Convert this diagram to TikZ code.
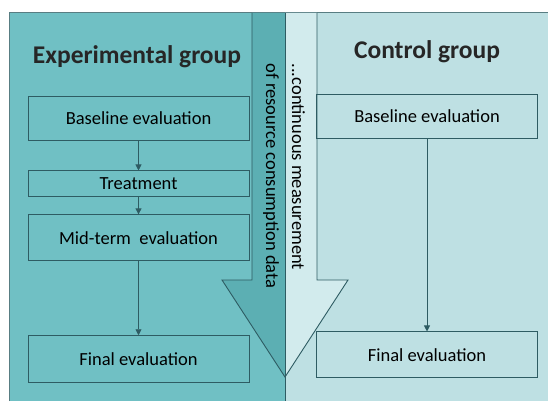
\documentclass[tikz,border=0pt]{standalone}
\usepackage{fontspec}
\setmainfont{Carlito}
\usetikzlibrary{arrows.meta}
\usetikzlibrary{positioning}

\definecolor{expfill}{HTML}{70C0C4}
\definecolor{exparrow}{HTML}{5CAFB3}
\definecolor{ctrlfill}{HTML}{BEE0E3}
\definecolor{ctrlarrow}{HTML}{D2EBED}
\definecolor{boxline}{HTML}{2E5C63}

\begin{document}
\begin{tikzpicture}[x=1pt,y=-1pt,
    stepbox/.style={draw=boxline, line width=0.9pt, minimum width=221pt, inner sep=0pt, font=\fontsize{18.5}{20}\selectfont},
    title/.style={font=\bfseries\fontsize{25.5}{28}\selectfont, text=black!85},
    flow/.style={-{Triangle[length=6pt,width=6pt]}, draw=boxline, line width=0.9pt}]
        \useasboundingbox (0,0) rectangle (548,401);
        % panels
        \fill[expfill] (9,13) rectangle (285,401);
        \fill[ctrlfill] (285,13) rectangle (548,401);
        \draw[boxline!80, line width=1pt] (9,401) -- (9,13) -- (548,13);
        % big arrow, two halves
        \fill[exparrow] (252,13) -- (285,13) -- (285,377) -- (222,280) -- (252,280) -- cycle;
        \fill[ctrlarrow] (285,13) -- (317,13) -- (317,280) -- (348,280) -- (285,377) -- cycle;
        \draw[boxline, line width=0.9pt] (252,13) -- (252,280) -- (222,280) -- (285,377) -- (348,280) -- (317,280) -- (317,13);
        \draw[boxline, line width=0.9pt] (285,13) -- (285,401);
        \node[rotate=-90, align=left, font=\fontsize{18.5}{26}\selectfont] (note) at (284,176) {...continuous measurement\\of resource consumption data};

        \node[title] (exp) at (137,57) {Experimental group};
        \node[title] (ctrl) at (427,52) {Control group};

        \node[stepbox, minimum height=44pt] (base) at (138.5,118) {Baseline evaluation};
        \node[stepbox, minimum height=26pt, below=30pt of base] (treat) {Treatment};
        \node[stepbox, minimum height=46pt, below=17pt of treat] (mid) {Mid-term\ \ evaluation};
        \node[stepbox, minimum height=47pt, below=74pt of mid] (final) {Final evaluation};

        \node[stepbox, minimum height=44pt] (cbase) at (427,116) {Baseline evaluation};
        \node[stepbox, minimum height=46pt, below=193pt of cbase] (cfinal) {Final evaluation};

        \draw[flow] (base) -- (treat);
        \draw[flow] (treat) -- (mid);
        \draw[flow] (mid) -- (final);
        \draw[flow] (cbase) -- (cfinal);
    \end{tikzpicture}
\end{document}
